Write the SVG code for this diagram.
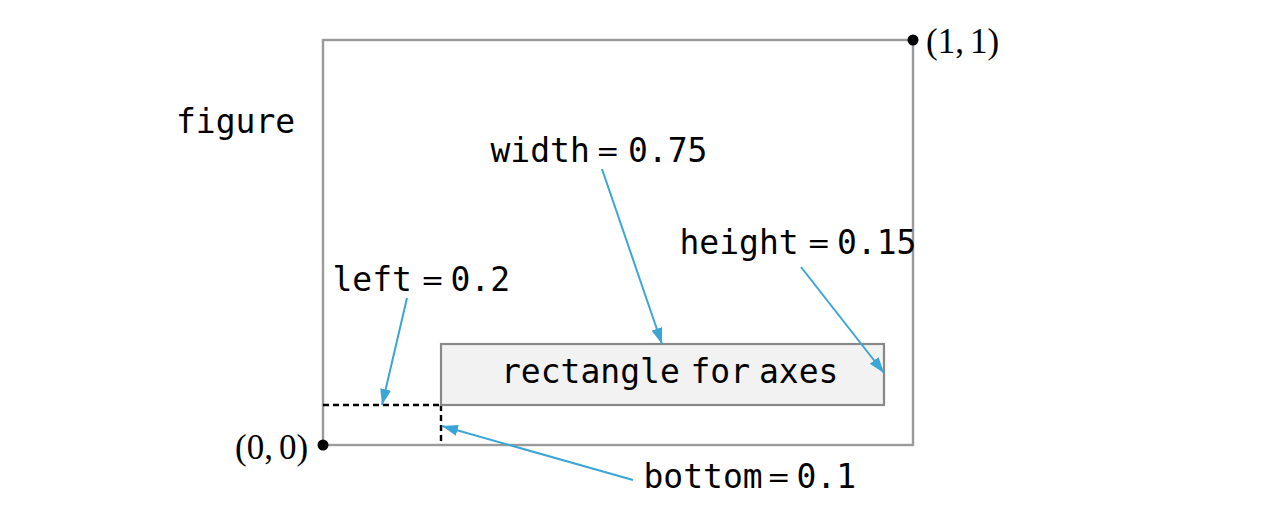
<svg xmlns="http://www.w3.org/2000/svg" width="1277" height="518" viewBox="0 0 1277 518">
<style>
.mono{font-family:"DejaVu Sans Mono","Liberation Mono",monospace;font-size:33px;fill:#000}
.eq{font-family:"DejaVu Sans","Liberation Sans",sans-serif;font-size:28px;fill:#000}
.serif{font-family:"Liberation Serif","DejaVu Serif",serif;font-size:35px;fill:#000}
.conn{stroke:#3ba5d6;stroke-width:2;fill:none;marker-end:url(#ah)}
.dash{stroke:#000;stroke-width:2.4;stroke-dasharray:6,4;fill:none}
</style>
<defs>
<marker id="ah" markerUnits="userSpaceOnUse" markerWidth="17" markerHeight="12" refX="16" refY="5.5" orient="auto">
<path d="M0,0 L16,5.5 L0,11 z" fill="#3ba5d6"/>
</marker>
</defs>
<rect width="1277" height="518" fill="#fff"/>
<g id="figure">
<rect x="323" y="40" width="590" height="405" fill="none" stroke="#9a9a9a" stroke-width="2.4"/>
<text class="mono" x="176" y="133">figure</text>
</g>
<g id="origin">
<circle cx="323" cy="445" r="5.5" fill="#000"/>
<text class="serif" x="235" y="459">(0,<tspan dx="6">0)</tspan></text>
</g>
<g id="corner">
<circle cx="913" cy="40" r="5.5" fill="#000"/>
<text class="serif" x="926" y="53">(1,<tspan dx="6">1)</tspan></text>
</g>
<g id="dashes">
<path class="dash" d="M323,405 H441 M441,405 V445"/>
</g>
<g id="axes">
<rect x="441" y="344" width="443" height="61" fill="#f2f2f2" stroke="#888" stroke-width="2.2"/>
<text class="mono" y="383"><tspan x="501">rectangle</tspan><tspan x="690.5">for</tspan><tspan x="759">axes</tspan></text>
</g>
<g id="label-width">
<text class="mono" x="490.5" y="162">width</text>
<text class="eq" x="596" y="161">=</text>
<text class="mono" x="628" y="162">0.75</text>
</g>
<g id="label-height">
<text class="mono" x="679.5" y="254">height</text>
<text class="eq" x="807" y="253">=</text>
<text class="mono" x="837" y="254">0.15</text>
</g>
<g id="label-left">
<text class="mono" x="332.5" y="291">left</text>
<text class="eq" x="420.7" y="290">=</text>
<text class="mono" x="450.5" y="291">0.2</text>
</g>
<g id="label-bottom">
<text class="mono" x="643.5" y="488">bottom</text>
<text class="eq" x="767" y="487">=</text>
<text class="mono" x="796.5" y="488">0.1</text>
</g>
<g id="connectors">
<line class="conn" x1="602" y1="169" x2="662" y2="344"/>
<line class="conn" x1="801" y1="267" x2="884" y2="373"/>
<line class="conn" x1="407" y1="298" x2="382" y2="405"/>
<line class="conn" x1="633" y1="480" x2="442" y2="426"/>
</g>
</svg>
